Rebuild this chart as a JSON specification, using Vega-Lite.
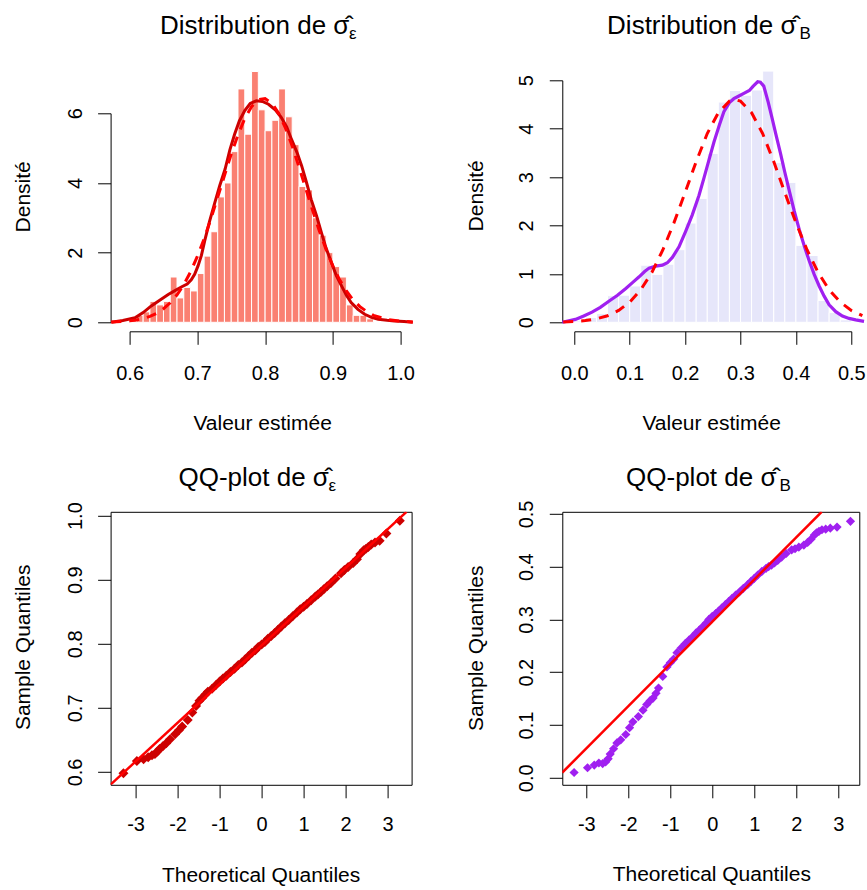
{
  "$schema": "https://vega.github.io/schema/vega-lite/v6.json",
  "background": "white",
  "padding": {"left": 11.6, "top": 12.3, "right": 0, "bottom": 0},
  "columns": 2,
  "align": "each",
  "bounds": "full",
  "spacing": {"row": 29.5, "column": 44.7},
  "config": {
    "font": "Liberation Sans",
    "view": {"stroke": null},
    "axis": {
      "labelFont": "Liberation Sans", "labelFontSize": 20, "labelColor": "#000",
      "titleFont": "Liberation Sans", "titleFontSize": 21, "titleFontWeight": "normal", "titleColor": "#000",
      "tickColor": "#000", "tickSize": 13, "tickWidth": 1, "domainColor": "#000", "domainWidth": 1,
      "grid": false, "labelFlush": false, "labelOverlap": false
    },
    "axisX": {"titleBaseline": "alphabetic", "titleAlign": "center", "labelPadding": 19},
    "axisY": {"labelAngle": 270, "labelAlign": "center", "labelBaseline": "alphabetic", "labelPadding": 16.5,
              "titleAngle": 270, "titleBaseline": "alphabetic", "titleAlign": "center"},
    "title": {"font": "Liberation Sans", "fontSize": 26, "fontWeight": "normal", "color": "#000",
              "subtitleFont": "Liberation Sans", "subtitleFontSize": 17, "subtitleColor": "#000", "subtitleFontWeight": "normal"}
  },
  "datasets": {
    "histE": [
      {"x0":0.60,"x1":0.61,"d":0.1},{"x0":0.61,"x1":0.62,"d":0.2},{"x0":0.62,"x1":0.63,"d":0.3},{"x0":0.63,"x1":0.64,"d":0.6},
      {"x0":0.64,"x1":0.65,"d":0.5},{"x0":0.65,"x1":0.66,"d":0.6},{"x0":0.66,"x1":0.67,"d":1.3},{"x0":0.67,"x1":0.68,"d":0.7},
      {"x0":0.68,"x1":0.69,"d":1.0},{"x0":0.69,"x1":0.70,"d":0.9},{"x0":0.70,"x1":0.71,"d":1.4},{"x0":0.71,"x1":0.72,"d":1.9},
      {"x0":0.72,"x1":0.73,"d":2.6},{"x0":0.73,"x1":0.74,"d":3.6},{"x0":0.74,"x1":0.75,"d":4.0},{"x0":0.75,"x1":0.76,"d":4.9},
      {"x0":0.76,"x1":0.77,"d":6.7},{"x0":0.77,"x1":0.78,"d":5.4},{"x0":0.78,"x1":0.79,"d":7.2},{"x0":0.79,"x1":0.80,"d":6.1},
      {"x0":0.80,"x1":0.81,"d":5.5},{"x0":0.81,"x1":0.82,"d":5.8},{"x0":0.82,"x1":0.83,"d":6.7},{"x0":0.83,"x1":0.84,"d":5.9},
      {"x0":0.84,"x1":0.85,"d":5.1},{"x0":0.85,"x1":0.86,"d":3.9},{"x0":0.86,"x1":0.87,"d":3.8},{"x0":0.87,"x1":0.88,"d":3.0},
      {"x0":0.88,"x1":0.89,"d":2.5},{"x0":0.89,"x1":0.90,"d":2.0},{"x0":0.90,"x1":0.91,"d":1.6},{"x0":0.91,"x1":0.92,"d":1.3},
      {"x0":0.92,"x1":0.93,"d":0.5},{"x0":0.93,"x1":0.94,"d":0.2},{"x0":0.94,"x1":0.95,"d":0.2},{"x0":0.95,"x1":0.96,"d":0.1}
    ],
    "densE": [
      {"x0":0.573,"d":0},{"x0":0.590,"d":0.05},{"x0":0.608,"d":0.13},{"x0":0.620,"d":0.28},{"x0":0.632,"d":0.47},
      {"x0":0.645,"d":0.64},{"x0":0.657,"d":0.80},{"x0":0.667,"d":0.91},{"x0":0.677,"d":1.02},{"x0":0.685,"d":1.10},
      {"x0":0.691,"d":1.22},{"x0":0.696,"d":1.38},{"x0":0.701,"d":1.62},{"x0":0.706,"d":1.92},{"x0":0.711,"d":2.35},
      {"x0":0.718,"d":2.90},{"x0":0.726,"d":3.45},{"x0":0.733,"d":3.92},{"x0":0.741,"d":4.40},{"x0":0.748,"d":4.95},
      {"x0":0.755,"d":5.40},{"x0":0.762,"d":5.78},{"x0":0.770,"d":6.08},{"x0":0.778,"d":6.28},{"x0":0.787,"d":6.36},
      {"x0":0.796,"d":6.34},{"x0":0.805,"d":6.26},{"x0":0.815,"d":6.10},{"x0":0.824,"d":5.88},{"x0":0.832,"d":5.60},
      {"x0":0.839,"d":5.25},{"x0":0.847,"d":4.88},{"x0":0.854,"d":4.49},{"x0":0.861,"d":4.02},{"x0":0.868,"d":3.53},
      {"x0":0.876,"d":3.05},{"x0":0.883,"d":2.58},{"x0":0.890,"d":2.13},{"x0":0.898,"d":1.71},{"x0":0.905,"d":1.35},
      {"x0":0.913,"d":1.04},{"x0":0.920,"d":0.78},{"x0":0.927,"d":0.57},{"x0":0.937,"d":0.37},{"x0":0.947,"d":0.23},
      {"x0":0.957,"d":0.14},{"x0":0.967,"d":0.09},{"x0":0.980,"d":0.06},{"x0":0.991,"d":0.04},{"x0":1.005,"d":0.02},
      {"x0":1.018,"d":0}
    ],
    "normE": [
      {"x0":0.573,"d":0.009},{"x0":0.58,"d":0.014},{"x0":0.60,"d":0.041},{"x0":0.61,"d":0.068},{"x0":0.62,"d":0.109},
      {"x0":0.63,"d":0.17},{"x0":0.64,"d":0.26},{"x0":0.65,"d":0.39},{"x0":0.66,"d":0.56},{"x0":0.67,"d":0.79},
      {"x0":0.68,"d":1.08},{"x0":0.69,"d":1.45},{"x0":0.70,"d":1.89},{"x0":0.71,"d":2.40},{"x0":0.72,"d":2.97},
      {"x0":0.73,"d":3.59},{"x0":0.74,"d":4.21},{"x0":0.75,"d":4.83},{"x0":0.76,"d":5.38},{"x0":0.77,"d":5.85},
      {"x0":0.78,"d":6.19},{"x0":0.79,"d":6.39},{"x0":0.80,"d":6.42},{"x0":0.81,"d":6.29},{"x0":0.82,"d":6.00},
      {"x0":0.83,"d":5.58},{"x0":0.84,"d":5.06},{"x0":0.85,"d":4.46},{"x0":0.86,"d":3.84},{"x0":0.87,"d":3.22},
      {"x0":0.88,"d":2.63},{"x0":0.89,"d":2.09},{"x0":0.90,"d":1.62},{"x0":0.91,"d":1.22},{"x0":0.92,"d":0.90},
      {"x0":0.93,"d":0.64},{"x0":0.94,"d":0.45},{"x0":0.95,"d":0.31},{"x0":0.96,"d":0.20},{"x0":0.98,"d":0.08},
      {"x0":1.00,"d":0.03},{"x0":1.018,"d":0.01}
    ],
    "histB": [
      {"x0":0.00,"x1":0.02,"d":0.03},{"x0":0.02,"x1":0.04,"d":0.10},{"x0":0.04,"x1":0.06,"d":0.18},{"x0":0.06,"x1":0.08,"d":0.55},
      {"x0":0.08,"x1":0.10,"d":0.56},{"x0":0.10,"x1":0.12,"d":0.75},{"x0":0.12,"x1":0.14,"d":1.18},{"x0":0.14,"x1":0.16,"d":0.99},
      {"x0":0.16,"x1":0.18,"d":1.20},{"x0":0.18,"x1":0.20,"d":1.50},{"x0":0.20,"x1":0.22,"d":2.05},{"x0":0.22,"x1":0.24,"d":2.56},
      {"x0":0.24,"x1":0.26,"d":3.49},{"x0":0.26,"x1":0.28,"d":4.55},{"x0":0.28,"x1":0.30,"d":4.79},{"x0":0.30,"x1":0.32,"d":4.69},
      {"x0":0.32,"x1":0.34,"d":4.80},{"x0":0.34,"x1":0.36,"d":5.19},{"x0":0.36,"x1":0.38,"d":3.30},{"x0":0.38,"x1":0.40,"d":2.89},
      {"x0":0.40,"x1":0.42,"d":1.59},{"x0":0.42,"x1":0.44,"d":1.38},{"x0":0.44,"x1":0.46,"d":0.45},{"x0":0.46,"x1":0.48,"d":0.20},
      {"x0":0.48,"x1":0.50,"d":0.05}
    ],
    "densB": [
      {"x0":-0.0217,"d":0},{"x0":0.002,"d":0.06},{"x0":0.017,"d":0.13},{"x0":0.032,"d":0.21},{"x0":0.047,"d":0.31},
      {"x0":0.063,"d":0.44},{"x0":0.078,"d":0.56},{"x0":0.093,"d":0.70},{"x0":0.105,"d":0.82},{"x0":0.117,"d":0.94},
      {"x0":0.127,"d":1.05},{"x0":0.135,"d":1.12},{"x0":0.147,"d":1.16},{"x0":0.159,"d":1.18},{"x0":0.168,"d":1.23},
      {"x0":0.177,"d":1.34},{"x0":0.189,"d":1.56},{"x0":0.201,"d":1.88},{"x0":0.213,"d":2.22},{"x0":0.225,"d":2.62},
      {"x0":0.234,"d":2.98},{"x0":0.243,"d":3.35},{"x0":0.252,"d":3.72},{"x0":0.262,"d":4.08},{"x0":0.270,"d":4.35},
      {"x0":0.280,"d":4.54},{"x0":0.288,"d":4.62},{"x0":0.298,"d":4.68},{"x0":0.306,"d":4.73},{"x0":0.316,"d":4.79},
      {"x0":0.323,"d":4.88},{"x0":0.331,"d":4.97},{"x0":0.336,"d":4.96},{"x0":0.342,"d":4.88},{"x0":0.350,"d":4.55},
      {"x0":0.357,"d":4.22},{"x0":0.364,"d":3.88},{"x0":0.372,"d":3.50},{"x0":0.380,"d":3.10},{"x0":0.388,"d":2.72},
      {"x0":0.397,"d":2.30},{"x0":0.406,"d":1.92},{"x0":0.415,"d":1.58},{"x0":0.424,"d":1.27},{"x0":0.433,"d":0.99},
      {"x0":0.442,"d":0.75},{"x0":0.451,"d":0.54},{"x0":0.460,"d":0.36},{"x0":0.472,"d":0.22},{"x0":0.484,"d":0.13},
      {"x0":0.496,"d":0.08},{"x0":0.508,"d":0.05},{"x0":0.523,"d":0.02}
    ],
    "normB": [
      {"x0":-0.02,"d":0.008},{"x0":0.0,"d":0.017},{"x0":0.02,"d":0.036},{"x0":0.04,"d":0.072},{"x0":0.06,"d":0.136},
      {"x0":0.08,"d":0.245},{"x0":0.10,"d":0.417},{"x0":0.12,"d":0.673},{"x0":0.14,"d":1.03},{"x0":0.16,"d":1.50},
      {"x0":0.18,"d":2.06},{"x0":0.20,"d":2.68},{"x0":0.22,"d":3.32},{"x0":0.24,"d":3.90},{"x0":0.26,"d":4.33},
      {"x0":0.28,"d":4.57},{"x0":0.29,"d":4.60},{"x0":0.30,"d":4.57},{"x0":0.32,"d":4.33},{"x0":0.34,"d":3.90},
      {"x0":0.36,"d":3.32},{"x0":0.38,"d":2.68},{"x0":0.40,"d":2.06},{"x0":0.42,"d":1.50},{"x0":0.44,"d":1.03},
      {"x0":0.46,"d":0.673},{"x0":0.48,"d":0.417},{"x0":0.50,"d":0.245},{"x0":0.52,"d":0.136}
    ],
    "qqE": [
      {"t":-3.29,"s":0.598},{"t":-2.97,"s":0.617},{"t":-2.81,"s":0.620},{"t":-2.70,"s":0.623},{"t":-2.61,"s":0.626},
      {"t":-2.54,"s":0.628},{"t":-2.48,"s":0.632},{"t":-2.43,"s":0.636},{"t":-2.35,"s":0.640},{"t":-2.27,"s":0.645},
      {"t":-2.18,"s":0.651},{"t":-2.06,"s":0.659},{"t":-1.97,"s":0.665},{"t":-1.89,"s":0.671},{"t":-1.76,"s":0.681},
      {"t":-1.65,"s":0.693},{"t":-1.56,"s":0.703},{"t":-1.48,"s":0.711},{"t":-1.41,"s":0.716},{"t":-1.34,"s":0.721},
      {"t":-1.28,"s":0.725},{"t":-1.18,"s":0.730},{"t":-1.08,"s":0.736},{"t":-1.00,"s":0.741},{"t":-0.92,"s":0.746},
      {"t":-0.84,"s":0.750},{"t":-0.74,"s":0.756},{"t":-0.645,"s":0.761},{"t":-0.555,"s":0.767},{"t":-0.47,"s":0.771},
      {"t":-0.39,"s":0.776},{"t":-0.31,"s":0.781},{"t":-0.23,"s":0.786},{"t":-0.15,"s":0.790},{"t":-0.08,"s":0.795},
      {"t":0.0,"s":0.799},{"t":0.08,"s":0.803},{"t":0.15,"s":0.808},{"t":0.23,"s":0.812},{"t":0.31,"s":0.817},
      {"t":0.39,"s":0.822},{"t":0.47,"s":0.827},{"t":0.555,"s":0.832},{"t":0.645,"s":0.837},{"t":0.74,"s":0.843},
      {"t":0.84,"s":0.849},{"t":0.92,"s":0.854},{"t":1.00,"s":0.858},{"t":1.08,"s":0.862},{"t":1.18,"s":0.868},
      {"t":1.28,"s":0.874},{"t":1.34,"s":0.877},{"t":1.41,"s":0.881},{"t":1.48,"s":0.885},{"t":1.56,"s":0.890},
      {"t":1.65,"s":0.895},{"t":1.76,"s":0.902},{"t":1.89,"s":0.910},{"t":1.97,"s":0.915},{"t":2.06,"s":0.920},
      {"t":2.18,"s":0.926},{"t":2.27,"s":0.932},{"t":2.35,"s":0.940},{"t":2.43,"s":0.946},{"t":2.48,"s":0.948},
      {"t":2.54,"s":0.951},{"t":2.61,"s":0.955},{"t":2.70,"s":0.958},{"t":2.81,"s":0.961},{"t":2.97,"s":0.972},
      {"t":3.29,"s":0.992}
    ],
    "lineE": [{"t":-3.595,"s":0.5804},{"t":3.45,"s":1.0059}],
    "qqB": [
      {"t":-3.29,"s":0.010},{"t":-2.97,"s":0.019},{"t":-2.81,"s":0.024},{"t":-2.70,"s":0.028},{"t":-2.61,"s":0.027},
      {"t":-2.54,"s":0.030},{"t":-2.48,"s":0.036},{"t":-2.43,"s":0.045},{"t":-2.35,"s":0.055},{"t":-2.27,"s":0.066},
      {"t":-2.18,"s":0.072},{"t":-2.06,"s":0.082},{"t":-1.97,"s":0.095},{"t":-1.89,"s":0.106},{"t":-1.76,"s":0.116},
      {"t":-1.65,"s":0.128},{"t":-1.56,"s":0.139},{"t":-1.48,"s":0.146},{"t":-1.41,"s":0.151},{"t":-1.34,"s":0.160},
      {"t":-1.28,"s":0.170},{"t":-1.18,"s":0.192},{"t":-1.08,"s":0.210},{"t":-1.00,"s":0.218},{"t":-0.92,"s":0.225},
      {"t":-0.84,"s":0.237},{"t":-0.74,"s":0.246},{"t":-0.645,"s":0.254},{"t":-0.555,"s":0.261},{"t":-0.47,"s":0.267},
      {"t":-0.39,"s":0.274},{"t":-0.31,"s":0.280},{"t":-0.23,"s":0.286},{"t":-0.15,"s":0.293},{"t":-0.08,"s":0.300},
      {"t":0.0,"s":0.306},{"t":0.08,"s":0.311},{"t":0.15,"s":0.316},{"t":0.23,"s":0.322},{"t":0.31,"s":0.328},
      {"t":0.39,"s":0.334},{"t":0.47,"s":0.340},{"t":0.555,"s":0.346},{"t":0.645,"s":0.352},{"t":0.74,"s":0.359},
      {"t":0.84,"s":0.366},{"t":0.92,"s":0.372},{"t":1.00,"s":0.378},{"t":1.08,"s":0.384},{"t":1.18,"s":0.391},
      {"t":1.28,"s":0.397},{"t":1.34,"s":0.400},{"t":1.41,"s":0.403},{"t":1.48,"s":0.407},{"t":1.56,"s":0.412},
      {"t":1.65,"s":0.418},{"t":1.76,"s":0.425},{"t":1.89,"s":0.432},{"t":1.97,"s":0.434},{"t":2.06,"s":0.437},
      {"t":2.18,"s":0.441},{"t":2.27,"s":0.446},{"t":2.35,"s":0.452},{"t":2.43,"s":0.460},{"t":2.48,"s":0.464},
      {"t":2.54,"s":0.467},{"t":2.61,"s":0.470},{"t":2.70,"s":0.471},{"t":2.81,"s":0.473},{"t":2.97,"s":0.475},
      {"t":3.29,"s":0.486}
    ],
    "lineB": [{"t":-3.571,"s":0.0099},{"t":2.605,"s":0.504}]
  },
  "concat": [
    {
      "width": 303, "height": 270,
      "title": {"text": "Distribution de σ\u0302\u00a0\u200b", "subtitle": "ε", "anchor": "middle", "frame": "group", "align": "right",
                "dx": 94.5, "offset": 19.4, "subtitlePadding": -12.7, "fontSize": 26, "subtitleFontSize": 17},
      "encoding": {
        "x": {"field": "x0", "type": "quantitative", "scale": {"domain": [0.6, 1.0], "range": [19, 290], "nice": false, "zero": false},
              "axis": {"title": "Valeur estimée", "values": [0.6, 0.7, 0.8, 0.9, 1.0], "format": ".1f", "titleX": 151.5, "titleY": 98.5}},
        "y": {"field": "d", "type": "quantitative", "scale": {"domain": [0, 6], "range": [261, 52], "nice": false, "zero": false},
              "axis": {"title": "Densité", "values": [0, 2, 4, 6], "format": "d", "titleX": -81, "titleY": 135}}
      },
      "layer": [
        {"data": {"name": "histE"}, "mark": {"type": "rect", "fill": "#FA8072", "stroke": "#FFFFFF", "strokeWidth": 1},
         "encoding": {"x2": {"field": "x1"}, "y2": {"datum": 0}}},
        {"data": {"name": "densE"}, "mark": {"type": "line", "stroke": "#CD0000", "strokeWidth": 3}, "encoding": {}},
        {"data": {"name": "normE"}, "mark": {"type": "line", "stroke": "#FF0000", "strokeWidth": 3, "strokeDash": [10, 8]}, "encoding": {}}
      ]
    },
    {
      "width": 303, "height": 270,
      "title": {"text": "Distribution de σ\u0302\u00a0\u00a0\u200b", "subtitle": "B", "anchor": "middle", "frame": "group", "align": "right",
                "dx": 97.1, "offset": 19.4, "subtitlePadding": -12.7, "fontSize": 26, "subtitleFontSize": 17},
      "encoding": {
        "x": {"field": "x0", "type": "quantitative", "scale": {"domain": [0, 0.5], "range": [12, 289], "nice": false, "zero": false},
              "axis": {"title": "Valeur estimée", "values": [0, 0.1, 0.2, 0.3, 0.4, 0.5], "format": ".1f", "titleX": 148.8, "titleY": 98.5}},
        "y": {"field": "d", "type": "quantitative", "scale": {"domain": [0, 5], "range": [261, 19], "nice": false, "zero": false},
              "axis": {"title": "Densité", "values": [0, 1, 2, 3, 4, 5], "format": "d", "titleX": -80, "titleY": 134}}
      },
      "layer": [
        {"data": {"name": "histB"}, "mark": {"type": "rect", "fill": "#E6E6FA", "stroke": "#FFFFFF", "strokeWidth": 1},
         "encoding": {"x2": {"field": "x1"}, "y2": {"datum": 0}}},
        {"data": {"name": "densB"}, "mark": {"type": "line", "stroke": "#A020F0", "strokeWidth": 3.2}, "encoding": {}},
        {"data": {"name": "normB"}, "mark": {"type": "line", "stroke": "#FF0000", "strokeWidth": 3, "strokeDash": [10, 8]}, "encoding": {}}
      ]
    },
    {
      "width": 301, "height": 273,
      "view": {"stroke": "#000", "strokeWidth": 1},
      "title": {"text": "QQ-plot de σ\u0302\u00a0\u200b", "subtitle": "ε", "anchor": "middle", "frame": "group", "align": "right",
                "dx": 75, "offset": 7.8, "subtitlePadding": -12.7, "fontSize": 26, "subtitleFontSize": 17},
      "encoding": {
        "x": {"field": "t", "type": "quantitative", "scale": {"domain": [-3.595, 3.571], "nice": false, "zero": false},
              "axis": {"title": "Theoretical Quantiles", "values": [-3, -2, -1, 0, 1, 2, 3], "format": "d",
                       "labelExpr": "replace(datum.label, '\u2212', '-')", "domain": false, "labelPadding": 17, "titleX": 150, "titleY": 96.3}},
        "y": {"field": "s", "type": "quantitative", "scale": {"domain": [0.58, 1.006], "nice": false, "zero": false},
              "axis": {"title": "Sample Quantiles", "values": [0.6, 0.7, 0.8, 0.9, 1.0], "format": ".1f", "domain": false, "titleX": -81, "titleY": 135}}
      },
      "layer": [
        {"data": {"name": "qqE"}, "mark": {"type": "point", "shape": "diamond", "filled": true, "size": 100, "color": "#CD0000", "opacity": 1}, "encoding": {}},
        {"data": {"name": "lineE"}, "mark": {"type": "line", "color": "#FF0000", "strokeWidth": 2.5, "clip": true}, "encoding": {}}
      ]
    },
    {
      "width": 297, "height": 273,
      "view": {"stroke": "#000", "strokeWidth": 1},
      "title": {"text": "QQ-plot de σ\u0302\u00a0\u00a0\u200b", "subtitle": "B", "anchor": "middle", "frame": "group", "align": "right",
                "dx": 80.1, "offset": 5.8, "subtitlePadding": -12.7, "fontSize": 26, "subtitleFontSize": 17},
      "encoding": {
        "x": {"field": "t", "type": "quantitative", "scale": {"domain": [-3.571, 3.5], "nice": false, "zero": false},
              "axis": {"title": "Theoretical Quantiles", "values": [-3, -2, -1, 0, 1, 2, 3], "format": "d",
                       "labelExpr": "replace(datum.label, '\u2212', '-')", "domain": false, "labelPadding": 17, "titleX": 149, "titleY": 96}},
        "y": {"field": "s", "type": "quantitative", "scale": {"domain": [-0.0133, 0.504], "nice": false, "zero": false},
              "axis": {"title": "Sample Quantiles", "values": [0, 0.1, 0.2, 0.3, 0.4, 0.5], "format": ".1f", "domain": false, "titleX": -80, "titleY": 136}}
      },
      "layer": [
        {"data": {"name": "qqB"}, "mark": {"type": "point", "shape": "diamond", "filled": true, "size": 85, "color": "#A020F0", "opacity": 1}, "encoding": {}},
        {"data": {"name": "lineB"}, "mark": {"type": "line", "color": "#FF0000", "strokeWidth": 2.5, "clip": true}, "encoding": {}}
      ]
    }
  ]
}
